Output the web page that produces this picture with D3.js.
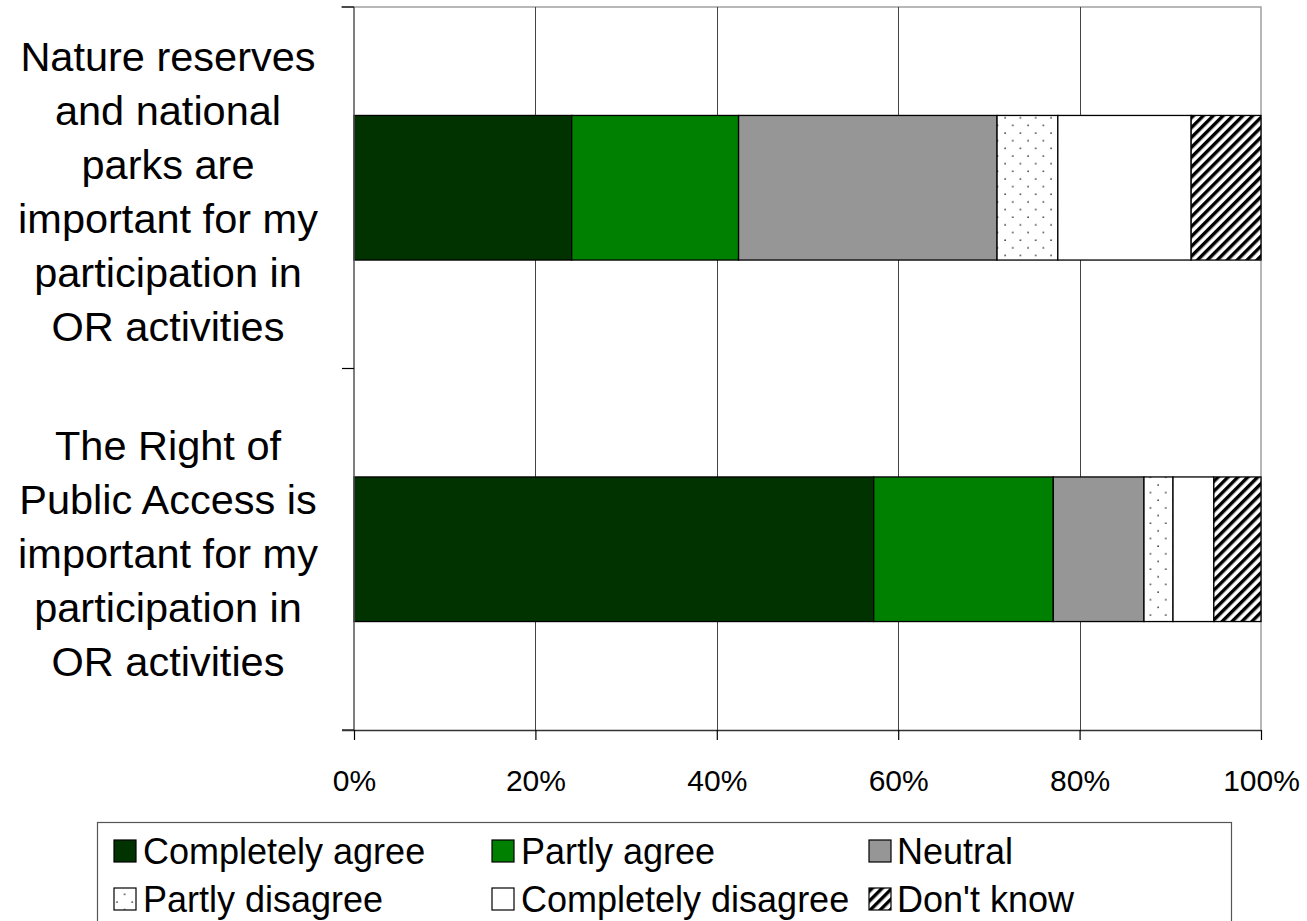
<!DOCTYPE html>
<html>
<head>
<meta charset="utf-8">
<script src="https://cdn.jsdelivr.net/npm/d3@7"></script>
<style>
  html, body { margin: 0; padding: 0; background: #fff; }
  svg { display: block; font-family: "Liberation Sans", Arial, sans-serif; }
</style>
</head>
<body>
<svg id="chart" width="1307" height="921"></svg>
<script>
// Survey statements (top to bottom), each split over several lines
const categories = ["Nature reserves", "Right of Public Access"];
const categoryLines = [
  ["Nature reserves", "and national", "parks are", "important for my", "participation in", "OR activities"],
  ["The Right of", "Public Access is", "important for my", "participation in", "OR activities"]
];

// Response options and their shares (%) per statement
const responses = ["Completely agree", "Partly agree", "Neutral", "Partly disagree", "Completely disagree", "Don't know"];
const natureReserves = [24.0, 18.4, 28.5, 6.7, 14.7, 7.7];
const publicAccess   = [57.3, 19.8, 10.0, 3.2, 4.5, 5.2];
const seriesValues = [natureReserves, publicAccess];

const xTicks = [0, 0.2, 0.4, 0.6, 0.8, 1.0];
const xTickLabels = ["0%", "20%", "40%", "60%", "80%", "100%"];

const svg = d3.select("#chart");
const plot = { left: 354, right: 1261, top: 7, bottom: 730 };

// Patterns for the hatched response types
const defs = svg.append("defs");
const dots = defs.append("pattern")
  .attr("id", "dots").attr("patternUnits", "userSpaceOnUse")
  .attr("width", 15.3).attr("height", 15.3);
dots.append("rect").attr("width", 15.3).attr("height", 15.3).attr("fill", "#fff");
dots.append("circle").attr("cx", 3).attr("cy", 3).attr("r", 0.9).attr("fill", "#444");
dots.append("circle").attr("cx", 10.65).attr("cy", 10.65).attr("r", 0.9).attr("fill", "#444");

const hatch = defs.append("pattern")
  .attr("id", "hatch").attr("patternUnits", "userSpaceOnUse")
  .attr("width", 7).attr("height", 7)
  .attr("patternTransform", "rotate(45)");
hatch.append("rect").attr("width", 7).attr("height", 7).attr("fill", "#fff");
hatch.append("rect").attr("x", 0).attr("width", 3.4).attr("height", 7).attr("fill", "#000");

const fills = ["#003300", "#008000", "#969696", "url(#dots)", "#ffffff", "url(#hatch)"];
const color = d3.scaleOrdinal().domain(responses).range(fills);

// Scales
const x = d3.scaleLinear().domain([0, 1]).range([plot.left, plot.right]);
const y = d3.scaleBand().domain(categories).range([plot.top, plot.bottom])
  .paddingInner(0.6).paddingOuter(0.3);

// Plot frame (top and right)
svg.append("path")
  .attr("d", `M${plot.left - 13},${plot.top}H${plot.right}V${plot.bottom}`)
  .attr("fill", "none").attr("stroke", "#a0a0a0").attr("stroke-width", 1.5);

// Vertical gridlines
svg.append("g").selectAll("line")
  .data(xTicks.slice(1, -1))
  .join("line")
  .attr("x1", d => Math.round(x(d)) + 0.5).attr("x2", d => Math.round(x(d)) + 0.5)
  .attr("y1", plot.top).attr("y2", plot.bottom)
  .attr("stroke", "#444").attr("stroke-width", 1);

// Stacked bars, normalised to 100 %
const rows = categories.map((c, i) => {
  const o = { category: c };
  responses.forEach((r, j) => { o[r] = seriesValues[i][j]; });
  return o;
});
const stack = d3.stack().keys(responses).offset(d3.stackOffsetExpand);
const layers = stack(rows);

svg.append("g").selectAll("g")
  .data(layers)
  .join("g")
  .attr("fill", d => color(d.key))
  .selectAll("rect")
  .data(d => d)
  .join("rect")
  .attr("x", d => x(d[0]))
  .attr("width", d => x(d[1]) - x(d[0]))
  .attr("y", d => y(d.data.category))
  .attr("height", y.bandwidth())
  .attr("stroke", "#000").attr("stroke-width", 1.3);

// Category axis (left)
const yAxisG = svg.append("g");
yAxisG.append("line")
  .attr("x1", plot.left).attr("x2", plot.left)
  .attr("y1", plot.top).attr("y2", plot.bottom)
  .attr("stroke", "#555").attr("stroke-width", 1.5);
const catBounds = [plot.top, ...categories.map(c => y(c) + y.bandwidth() / 2 + y.step() / 2)];
yAxisG.selectAll("line.tick")
  .data(catBounds)
  .join("line").attr("class", "tick")
  .attr("x1", plot.left - 12).attr("x2", plot.left)
  .attr("y1", d => d).attr("y2", d => d)
  .attr("stroke", "#000").attr("stroke-width", 1.2);

// Category labels
const labelSize = 41.5;
const lineH = 54;
categories.forEach((c, i) => {
  const lines = categoryLines[i];
  const cy = y(c) + y.bandwidth() / 2;
  const t = svg.append("text")
    .attr("text-anchor", "middle")
    .attr("font-size", labelSize)
    .attr("fill", "#000");
  lines.forEach((ln, k) => {
    t.append("tspan")
      .attr("x", 168)
      .attr("y", cy + (k - (lines.length - 1) / 2) * lineH + 4)
      .attr("dy", "0.35em")
      .text(ln);
  });
});

// Value axis (bottom)
const xAxis = d3.axisBottom(x)
  .tickValues(xTicks)
  .tickFormat((d, i) => xTickLabels[i])
  .tickSize(10).tickSizeOuter(0).tickPadding(30);
const xg = svg.append("g")
  .attr("transform", `translate(0,${plot.bottom})`)
  .call(xAxis);
xg.select(".domain").attr("stroke", "#333").attr("stroke-width", 1.5)
  .attr("d", `M${plot.left - 12},0.5H${plot.right}`);
xg.selectAll(".tick line").attr("stroke", "#000").attr("stroke-width", 1.2);
xg.selectAll(".tick text")
  .attr("font-size", 30).attr("font-family", "Liberation Sans, Arial, sans-serif")
  .attr("fill", "#000");

// Legend
const legend = svg.append("g");
legend.append("rect")
  .attr("x", 97.5).attr("y", 822.5).attr("width", 1134).attr("height", 120)
  .attr("fill", "#fff").attr("stroke", "#555").attr("stroke-width", 1.2);
const colX = [114, 492, 869];
const textX = [143, 521, 897];
const rowY = [851, 899];
const items = legend.selectAll("g.item")
  .data(responses)
  .join("g").attr("class", "item")
  .attr("transform", (d, i) => `translate(${colX[i % 3]},${rowY[Math.floor(i / 3)]})`);
items.append("rect")
  .attr("x", 0).attr("y", -11).attr("width", 22).attr("height", 22)
  .attr("fill", d => color(d)).attr("stroke", "#000").attr("stroke-width", 1.2);
items.append("text")
  .attr("x", (d, i) => textX[i % 3] - colX[i % 3])
  .attr("y", 0).attr("dy", "0.36em")
  .attr("font-size", 36)
  .attr("fill", "#000")
  .text(d => d);
</script>
</body>
</html>
